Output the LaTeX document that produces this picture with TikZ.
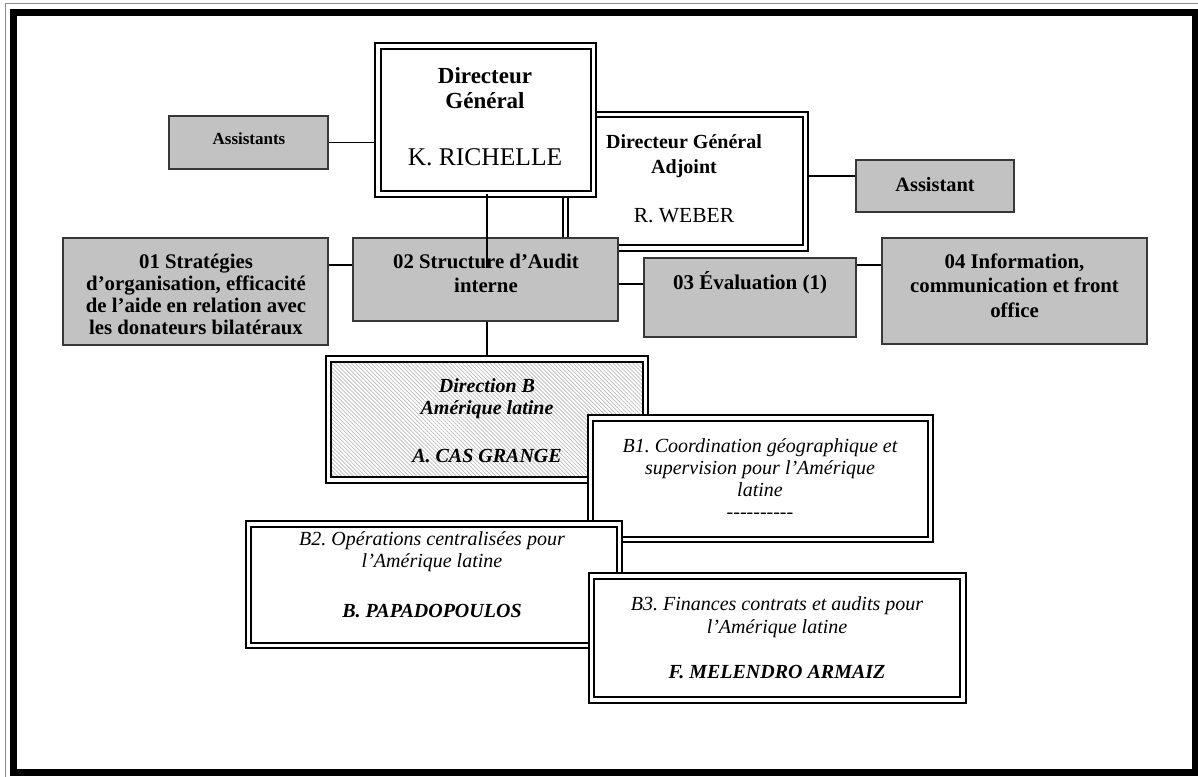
\documentclass[tikz,border=0pt]{standalone}
\usepackage{fontspec}
\setmainfont{Liberation Serif}
\usetikzlibrary{patterns.meta,calc}
\definecolor{boxgray}{RGB}{194,194,194}
\definecolor{boxedge}{RGB}{55,55,55}
\pgfdeclarelayer{background}
\pgfsetlayers{background,main}
\newcommand{\dashline}{-\kern0pt-\kern0pt-\kern0pt-\kern0pt-\kern0pt-\kern0pt-\kern0pt-\kern0pt-\kern0pt-}
\frenchspacing

\begin{document}
\begin{tikzpicture}[x=1pt,y=-1pt,
  graybox/.style={draw=boxedge, line width=1.6pt, fill=boxgray, inner sep=0pt, outer sep=0pt, anchor=north west},
  dblbox/.style={draw=black, line width=2.2pt, double=white, double distance=3.4pt, fill=white, inner sep=0pt, outer sep=0pt, anchor=north west},
  hatchbox/.style={dblbox, preaction={fill=white}, pattern={Lines[angle=-45, distance=2.8pt, line width=0.7pt]}, pattern color=black!28},
  link/.style={draw=black, line width=1.3pt},
  lbl/.style={align=center, inner sep=0pt, anchor=base},
  bold/.style={font=\fontsize{#1}{22}\selectfont\bfseries},
  ital/.style={font=\fontsize{20}{#1}\selectfont\itshape},
  bital/.style={font=\fontsize{20}{22}\selectfont\bfseries\itshape}
]
\useasboundingbox (0,0) rectangle (1198,776);

% page frame
\draw[black!45, line width=1pt] (5,4) rectangle (1215,795);
\draw[black, line width=7pt] (13.5,12.5) rectangle (1195.5,772.5);

% deputy director (partly behind the director box); text nodes sit on their last baseline
\node[dblbox, minimum width=240pt, minimum height=133.5pt] (dga) at (565.5,114.5) {};
\node[lbl, font=\fontsize{20}{25}\selectfont] (dgat) at (684,222)
  {\textbf{Directeur Général}\\\textbf{Adjoint}\\[24pt]{\fontsize{21.5}{25}\selectfont R. WEBER}};

% director general
\node[dblbox, minimum width=215.5pt, minimum height=148pt] (dg) at (378,46) {};
\node[lbl, font=\fontsize{23}{25}\selectfont] (dgt) at (485,165)
  {\textbf{Directeur}\\\textbf{Général}\\[32pt]{\fontsize{25.5}{25}\selectfont K. RICHELLE}};

% assistants
\node[graybox, minimum width=159pt, minimum height=53pt] (ast) at (169,116) {};
\node[lbl, bold=17] (astt) at (249,144) {Assistants};
\node[graybox, minimum width=158pt, minimum height=52pt] (asr) at (856,160) {};
\node[lbl, bold=20.4] (asrt) at (935,191) {Assistant};

% units 01 - 04
\node[graybox, minimum width=265pt, minimum height=107pt] (s01) at (63,238) {};
\node[lbl, bold=20.8] (s01t) at (196,334)
  {01 Stratégies\\d'organisation, efficacité\\de l'aide en relation avec\\les donateurs bilatéraux};
\node[graybox, minimum width=265pt, minimum height=83pt] (aud) at (353,238) {};
\node[lbl, font=\fontsize{20.8}{24}\selectfont\bfseries] (audt) at (486,292)
  {02 Structure d'Audit\\interne};
\node[graybox, minimum width=212pt, minimum height=79pt] (eva) at (644,258) {};
\node[lbl, bold=21] (evat) at (750,289) {03 Évaluation (1)};
\node[graybox, minimum width=265pt, minimum height=106pt] (inf) at (882,238) {};
\node[lbl, font=\fontsize{20.8}{24.5}\selectfont\bfseries] (inft) at (1014.5,317)
  {04 Information,\\communication et front\\office};

% line from the director down into the audit box
\coordinate (dgtick) at ($(aud.north)+(1.5,30)$);
\draw[link] (dgtick |- dg.south) -- (dgtick);

% directorate B
\node[hatchbox, minimum width=317pt, minimum height=121pt] (dirb) at (328.5,359) {};
\node[lbl, bital] (dirbt) at (487,462)
  {Direction B\\Amérique latine\\[26pt]A. CAS GRANGE};

% units B1 - B3
\node[dblbox, minimum width=340pt, minimum height=121.5pt] (b1) at (590.5,418) {};
\node[lbl, ital=22] (b1t) at (760,518)
  {B1. Coordination géographique et\\supervision pour l'Amérique\\latine\\\dashline};
\node[dblbox, minimum width=371pt, minimum height=121.5pt] (b2) at (248.5,524) {};
\node[lbl, ital=22] (b2t) at (432,617)
  {B2. Opérations centralisées pour\\l'Amérique latine\\[28pt]\textbf{B. PAPADOPOULOS}};
\node[dblbox, minimum width=371.5pt, minimum height=124pt] (b3) at (591.5,576) {};
\node[lbl, ital=23] (b3t) at (777,678)
  {B3. Finances contrats et audits pour\\l'Amérique latine\\[22pt]\textbf{F. MELENDRO ARMAIZ}};

% connectors
\begin{pgfonlayer}{background}
  \draw[link] (ast.east) -- (ast.east -| dg.west);
  \coordinate (asrin) at ([yshift=10pt]asr.west);
  \draw[link] (asrin) -- (asrin -| dga.east);
  \coordinate (j12) at ([yshift=-27pt]s01.north east);
  \draw[link] (j12) -- (j12 -| aud.west);
  \coordinate (j23) at ([yshift=-26pt]eva.north west);
  \draw[link] (j23) -- (j23 -| aud.east);
  \coordinate (j34) at ([yshift=-27pt]inf.north west);
  \draw[link] (j34) -- (j34 -| eva.east);
  \draw[link] (dirb.north |- aud.south) -- (dirb.north);
\end{pgfonlayer}
\end{tikzpicture}
\end{document}
